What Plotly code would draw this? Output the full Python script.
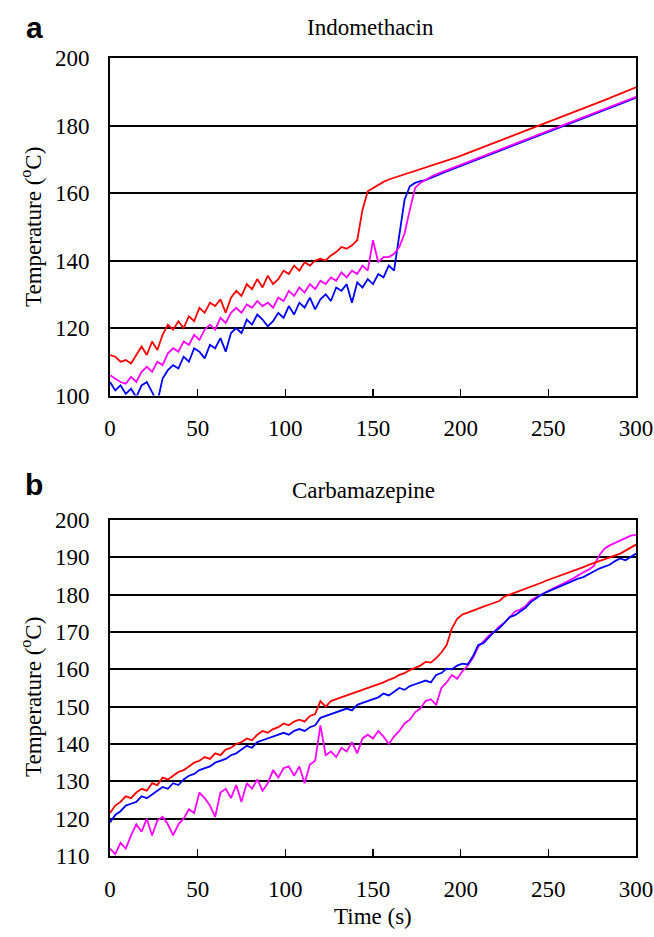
import plotly.graph_objects as go

W, H = 654, 937

# sample times (s), one reading every 3 s
time_s = list(range(0, 301, 3))

# ---- Panel a: Indomethacin ----
a_red = [112, 111.5, 110, 110.5, 109.5, 112, 114.5, 112, 116, 113.5,
         118, 121, 119.5, 122, 120, 123.5, 122, 126, 124.5, 127.5,
         126.5, 128.5, 124.5, 129, 131, 129.5, 133, 131.5, 134.5, 132,
         135.5, 133, 134.5, 137, 136, 138.5, 137, 139.5, 138.5, 140,
         140.5, 140, 141.5, 142.5, 144, 143.5, 144.5, 146, 155, 160.5,
         161.5, 162.5, 163.3, 164, 164.5, 165, 165.4, 165.9, 166.4, 167,
         167.5, 168, 168.5, 169.1, 169.6, 170.1, 170.6, 171.2, 171.8, 172.4,
         173, 173.5, 174.1, 174.7, 175.3, 175.9, 176.5, 177.1, 177.7, 178.3,
         178.9, 179.5, 180.1, 180.7, 181.3, 181.9, 182.5, 183.1, 183.8, 184.4,
         185, 185.6, 186.3, 186.9, 187.5, 188.1, 188.8, 189.4, 190, 190.7,
         191.3]
a_magenta = [106, 105, 104, 103.5, 105.5, 104, 107, 108.5, 107, 110,
             109, 112.5, 114, 113, 116, 115, 118, 116.5, 119.5, 121,
             119.5, 123, 121.5, 124.5, 126, 124.5, 127, 126, 128, 126.5,
             127.5, 126, 129, 128, 131, 129.5, 132, 130.5, 133, 131.5,
             134, 133, 135, 134, 136.5, 135, 137, 136, 138.5, 137,
             146, 139.5, 141, 141, 142, 144, 148, 155, 161.5, 163,
             164, 164.8, 165.5, 166.1, 166.7, 167.3, 167.9, 168.5, 169.1, 169.7,
             170.3, 170.9, 171.5, 172.1, 172.7, 173.3, 173.9, 174.5, 175.1, 175.7,
             176.3, 176.9, 177.5, 178.1, 178.7, 179.3, 179.9, 180.5, 181.1, 181.7,
             182.3, 182.9, 183.5, 184.1, 184.7, 185.3, 185.9, 186.5, 187.1, 187.7,
             188.5]
a_blue = [104, 101.5, 103, 100.5, 102, 99.5, 103, 104, 101, 98,
          105, 107.5, 109, 108, 111.5, 110, 114, 113, 111, 115,
          114, 117, 113, 118.5, 120, 118.5, 122.5, 121, 124, 122.5,
          120.5, 122, 124.5, 123, 126.5, 124, 127.5, 126, 129, 125.5,
          128.5, 130, 128, 132, 131, 133, 127.5, 133.5, 132, 134.5,
          133, 136, 135, 138.5, 137, 147, 158, 162, 163, 163.5,
          163.8, 164.5, 165.2, 165.8, 166.4, 167, 167.6, 168.2, 168.8, 169.4,
          170, 170.6, 171.2, 171.8, 172.4, 173, 173.6, 174.2, 174.8, 175.4,
          176, 176.6, 177.2, 177.8, 178.4, 179, 179.6, 180.2, 180.8, 181.4,
          182, 182.6, 183.2, 183.8, 184.4, 185, 185.6, 186.2, 186.8, 187.4,
          188.2]

# ---- Panel b: Carbamazepine ----
b_red = [121.5, 123.5, 124.5, 126, 125.5, 127, 128, 127.5, 129.5, 129,
         131, 130.5, 131.5, 132.5, 133, 134, 135, 135.5, 136.5, 136,
         137.5, 137, 138.5, 139, 140, 140.5, 141.5, 141, 142.5, 143.5,
         143, 144, 144.5, 145.5, 145, 146, 146.5, 146, 147.5, 148,
         151.5, 150, 151.5, 152, 152.5, 153, 153.5, 153.8, 154.5, 155,
         155.3, 156, 156.5, 157.2, 157.7, 158.5, 159, 159.8, 160.5, 161,
         162, 161.8, 163, 164.5, 166.5, 171, 173.5, 174.7, 175.2, 175.8,
         176.3, 176.8, 177.3, 177.8, 178.3, 179.5, 180, 180.5, 181, 181.5,
         182, 182.6, 183.2, 183.8, 184.3, 184.7, 185.2, 185.7, 186.2, 186.8,
         187.4, 188, 188.5, 189, 189.4, 189.8, 190.5, 191, 191.8, 192.6,
         193.4]
b_blue = [119, 121, 122, 123.5, 124, 124.5, 126, 125.5, 126.5, 127.5,
          128.5, 128, 129.5, 129, 130.5, 131.5, 132, 133, 133.5, 134,
          135, 135.5, 136, 137, 137.5, 138.5, 139.5, 139, 140.5, 141,
          141.5, 142, 142.5, 143, 142.5, 143.5, 144, 143.5, 144.5, 145,
          147, 147.5, 148, 148.5, 149, 149.5, 149, 150.5, 151, 151.5,
          151.8, 152.5, 153.5, 153, 154, 155, 154.5, 155.5, 156, 156.5,
          157, 156.5, 158.5, 159, 160.2, 160, 161, 161.5, 161.3, 163.5,
          166.5, 167, 168.5, 170, 171, 172.5, 174, 174.5, 175.5, 176.5,
          178, 179, 180, 180.7, 181.3, 182, 182.5, 183, 183.7, 184.3,
          184.7, 185.5, 186.3, 187, 187.5, 188, 189, 189.7, 189.2, 190.2,
          191]
b_magenta = [112, 110.5, 113.5, 112, 115.5, 118.5, 116.5, 120, 115.5, 119.5,
             120.5, 118.5, 115.5, 118.5, 120, 122.5, 121.5, 127, 125.5, 123.5,
             120.5, 127, 128, 125.5, 129, 124.5, 129.5, 128, 130.5, 127.5,
             129.5, 133, 131, 133.5, 134, 131.5, 134, 129.5, 134.5, 135.5,
             145, 137, 138, 136.5, 139, 138, 140.5, 137.5, 141.5, 142.5,
             141.5, 143.5, 142, 140, 142, 143.5, 145.5, 146.5, 148.5, 149.5,
             151.5, 152, 150.5, 155, 156.5, 158.5, 157.5, 159.5, 161, 163,
             166, 167.5, 169, 170, 171.5, 172.5, 174, 175.5, 176, 177,
             178.5, 179.3, 180, 180.8, 181.5, 182.2, 183, 183.6, 184.3, 185.2,
             186, 186.7, 187.7, 190.5, 192.3, 193.2, 193.8, 194.5, 195.2, 195.8,
             196]

for arr in (a_red, a_magenta, a_blue, b_red, b_blue, b_magenta):
    assert len(arr) == len(time_s), len(arr)

titles = ["Indomethacin", "Carbamazepine"]
panel_letters = ["a", "b"]
y_title = "Temperature (<sup>o</sup>C)"
x_title = "Time (s)"

SERIF = "Liberation Serif"
colors = {"red": "#ff0000", "blue": "#0000ff", "magenta": "#ff00ff"}

fig = go.Figure()

def add(x, y, color, xa, ya):
    fig.add_trace(go.Scatter(x=x, y=y, mode="lines",
                             line=dict(color=color, width=1.8),
                             xaxis=xa, yaxis=ya, showlegend=False,
                             hoverinfo="skip"))

add(time_s, a_blue, colors["blue"], "x", "y")
add(time_s, a_magenta, colors["magenta"], "x", "y")
add(time_s, a_red, colors["red"], "x", "y")
add(time_s, b_magenta, colors["magenta"], "x2", "y2")
add(time_s, b_blue, colors["blue"], "x2", "y2")
add(time_s, b_red, colors["red"], "x2", "y2")

def px_x(p):
    return p / W

def px_y(p):
    return 1 - p / H

xdom = [px_x(110), px_x(636)]
ydom_a = [px_y(395.5), px_y(58)]
ydom_b = [px_y(856), px_y(520)]

tickfont = dict(family=SERIF, size=23, color="black")

xcommon = dict(range=[0, 300], dtick=50, tick0=0, ticks="inside", ticklen=7,
               tickwidth=1.5, tickcolor="black", showline=True, linecolor="black",
               linewidth=2, mirror=True, showgrid=False, zeroline=False,
               tickfont=tickfont, ticklabelstandoff=11, domain=xdom,
               automargin=False, fixedrange=True)
ycommon = dict(ticks="", showline=True, linecolor="black", linewidth=2,
               mirror=True, showgrid=True, gridcolor="black", gridwidth=2,
               zeroline=False, tickfont=tickfont, ticklabelstandoff=14,
               automargin=False, fixedrange=True)

fig.update_layout(
    width=W, height=H,
    margin=dict(l=0, r=0, t=0, b=0, autoexpand=False),
    paper_bgcolor="white", plot_bgcolor="white",
    xaxis=dict(**xcommon, anchor="y"),
    yaxis=dict(**ycommon, range=[100, 200], dtick=20, domain=ydom_a, anchor="x"),
    xaxis2=dict(**xcommon, anchor="y2"),
    yaxis2=dict(**ycommon, range=[110, 200], dtick=10, domain=ydom_b, anchor="x2"),
)

ann = []
def text(x, y, s, size, family=SERIF, angle=0):
    ann.append(dict(x=px_x(x), y=px_y(y), xref="paper", yref="paper",
                    text=s, showarrow=False, textangle=angle,
                    xanchor="center", yanchor="middle",
                    font=dict(family=family, size=size, color="black")))

text(34, 27, "<b>%s</b>" % panel_letters[0], 30, family="Liberation Sans")
text(370, 27, titles[0], 23)
text(34, 484, "<b>%s</b>" % panel_letters[1], 30, family="Liberation Sans")
text(363, 490, titles[1], 23)
text(31, 227, y_title, 23, angle=-90)
text(31, 697, y_title, 23, angle=-90)
text(373, 916, x_title, 23)

fig.update_layout(annotations=ann)
fig.write_html("out.html",
               config={"displayModeBar": False, "staticPlot": True},
               post_script="document.body.style.margin='0px';"
                           "document.body.style.overflow='hidden';")
